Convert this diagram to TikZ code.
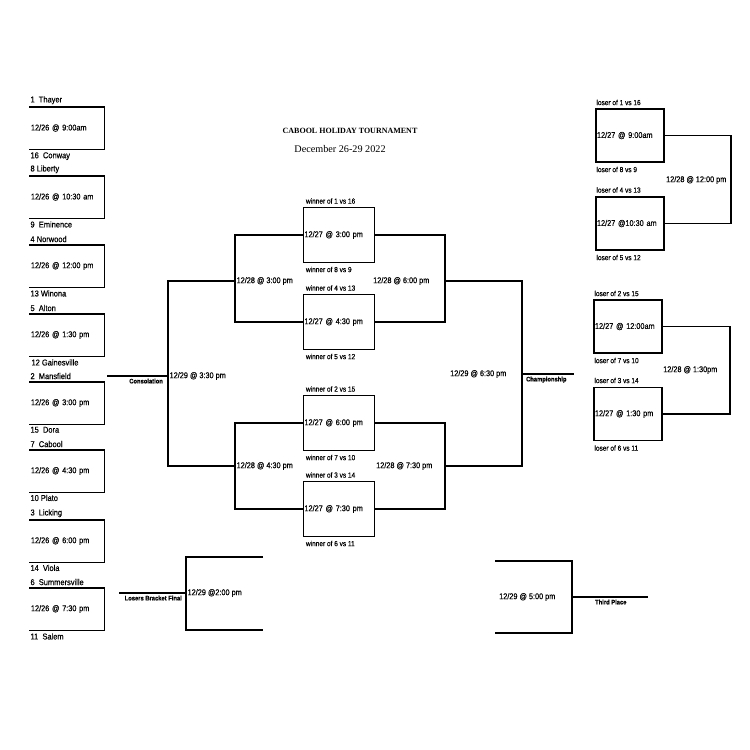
\documentclass[tikz,border=0pt]{standalone}
\usepackage{fontspec}
\setmainfont{Liberation Sans}[FakeStretch=0.88, FakeBold=0.4]
\newfontfamily\headfont{Liberation Serif}
\usetikzlibrary{positioning}

\tikzset{
  team/.style={font=\fontsize{8.5}{10}\selectfont, inner sep=0.5pt},
  hour/.style={font=\fontsize{8.3}{10}\selectfont, inner sep=1pt},
  note/.style={font=\fontsize{7.4}{9}\selectfont, inner sep=0.5pt},
  tag/.style={font=\bfseries\fontsize{6.6}{8}\selectfont, inner sep=0.5pt},
  slot/.style={hour, text width=72pt, align=left, minimum height=41pt},
  game/.style={hour, draw, text width=69pt, align=left, minimum height=55pt},
  consol/.style={hour, draw, text width=66pt, align=left, minimum height=53pt}
}

\begin{document}
\begin{tikzpicture}[x=1pt, y=-1pt, line width=1.3pt]
  \fill[white] (0,0) rectangle (750,750);

  \node[font=\headfont\bfseries\fontsize{8}{10}\selectfont] (title) at (350,131) {CABOOL HOLIDAY TOURNAMENT};
  \node[font=\headfont\fontsize{10.2}{12}\selectfont] (dates) at (340,149) {December 26-29 2022};

  % first round
  \node[slot] (g1) at (67,128) {12/26 @ 9:00am};
  \node[team, above right=1.5pt and 0pt of g1.north west] (g1a) {1\ \ Thayer};
  \node[team, below right=2pt and 0pt of g1.south west] (g1b) {16\ \ Conway};
  \draw (g1.north west) -- (g1.north east) -- (g1.south east) -- (g1.south west);

  \node[slot] (g2) at (67,197) {12/26 @ 10:30 am};
  \node[team, above right=1.5pt and 0pt of g2.north west] (g2a) {8 Liberty};
  \node[team, below right=2pt and 0pt of g2.south west] (g2b) {9\ \ Eminence};
  \draw (g2.north west) -- (g2.north east) -- (g2.south east) -- (g2.south west);

  \node[slot] (g3) at (67,266) {12/26 @ 12:00 pm};
  \node[team, above right=1.5pt and 0pt of g3.north west] (g3a) {4 Norwood};
  \node[team, below right=2pt and 0pt of g3.south west] (g3b) {13 Winona};
  \draw (g3.north west) -- (g3.north east) -- (g3.south east) -- (g3.south west);

  \node[slot] (g4) at (67,335) {12/26 @ 1:30 pm};
  \node[team, above right=1.5pt and 0pt of g4.north west] (g4a) {5\ \ Alton};
  \node[team, below right=2pt and 1pt of g4.south west] (g4b) {12 Gainesville};
  \draw (g4.north west) -- (g4.north east) -- (g4.south east) -- (g4.south west);

  \node[slot] (g5) at (67,403) {12/26 @ 3:00 pm};
  \node[team, above right=1.5pt and 0pt of g5.north west] (g5a) {2\ \ Mansfield};
  \node[team, below right=1.5pt and 0pt of g5.south west] (g5b) {15\ \ Dora};
  \draw (g5.north west) -- (g5.north east) -- (g5.south east) -- (g5.south west);

  \node[slot] (g6) at (67,471) {12/26 @ 4:30 pm};
  \node[team, above right=1.5pt and 0pt of g6.north west] (g6a) {7\ \ Cabool};
  \node[team, below right=1.5pt and 0pt of g6.south west] (g6b) {10 Plato};
  \draw (g6.north west) -- (g6.north east) -- (g6.south east) -- (g6.south west);

  \node[slot] (g7) at (67,541) {12/26 @ 6:00 pm};
  \node[team, above right=1.5pt and 0pt of g7.north west] (g7a) {3\ \ Licking};
  \node[team, below right=1.5pt and 0pt of g7.south west] (g7b) {14\ \ Viola};
  \draw (g7.north west) -- (g7.north east) -- (g7.south east) -- (g7.south west);

  \node[slot] (g8) at (67,609) {12/26 @ 7:30 pm};
  \node[team, above right=1.5pt and 0pt of g8.north west] (g8a) {6\ \ Summersville};
  \node[team, below right=2pt and 0pt of g8.south west] (g8b) {11\ \ Salem};
  \draw (g8.north west) -- (g8.north east) -- (g8.south east) -- (g8.south west);

  % winners bracket
  \node[game] (w1) at (339,235) {12/27 @ 3:00 pm};
  \node[note, above right=2pt and 2pt of w1.north west] (w1a) {winner of 1 vs 16};
  \node[note, below right=2.5pt and 2pt of w1.south west] (w1b) {winner of 8 vs 9};

  \node[game] (w2) at (339,322) {12/27 @ 4:30 pm};
  \node[note, above right=2pt and 2pt of w2.north west] (w2a) {winner of 4 vs 13};
  \node[note, below right=2.5pt and 2pt of w2.south west] (w2b) {winner of 5 vs 12};

  \node[game] (w3) at (339,423) {12/27 @ 6:00 pm};
  \node[note, above right=2pt and 2pt of w3.north west] (w3a) {winner of 2 vs 15};
  \node[note, below right=2.5pt and 2pt of w3.south west] (w3b) {winner of 7 vs 10};

  \node[game] (w4) at (339,509) {12/27 @ 7:30 pm};
  \node[note, above right=2pt and 2pt of w4.north west] (w4a) {winner of 3 vs 14};
  \node[note, below right=2.5pt and 2pt of w4.south west] (w4b) {winner of 6 vs 11};

  \coordinate (qfA) at (235,281);
  \coordinate (qfB) at (235,466);
  \coordinate (cons) at (168,376);
  \coordinate (consEnd) at (107,376);
  \coordinate (sfA) at (445,281);
  \coordinate (sfB) at (445,466);
  \coordinate (champ) at (522,374);
  \coordinate (champEnd) at (574,374);

  \draw (w1.west) -| (qfA) |- (w2.west);
  \draw (w3.west) -| (qfB) |- (w4.west);
  \draw (qfA) -| (cons) |- (qfB);
  \draw (cons) -- (consEnd);
  \draw (w1.east) -| (sfA) |- (w2.east);
  \draw (w3.east) -| (sfB) |- (w4.east);
  \draw (sfA) -| (champ) |- (sfB);
  \draw (champ) -- (champEnd);

  \node[hour, right=0pt of qfA] (qfAt) {12/28 @ 3:00 pm};
  \node[hour, right=0pt of qfB] (qfBt) {12/28 @ 4:30 pm};
  \node[hour, right=0pt of cons] (const) {12/29 @ 3:30 pm};
  \node[tag, below left=1.5pt and 4pt of cons] (consl) {Consolation};
  \node[hour, left=14pt of sfA] (sfAt) {12/28 @ 6:00 pm};
  \node[hour, left=11pt of sfB] (sfBt) {12/28 @ 7:30 pm};
  \node[hour, left=14pt of champ] (champt) {12/29 @ 6:30 pm};
  \node[tag, below right=1.5pt and 3pt of champ] (champl) {Championship};

  % consolation bracket
  \node[consol] (l1) at (630,135.5) {12/27 @ 9:00am};
  \node[note, above right=2pt and 0pt of l1.north west] (l1a) {loser of 1 vs 16};
  \node[note, below right=3pt and 0pt of l1.south west] (l1b) {loser of 8 vs 9};

  \node[consol] (l2) at (630,223.5) {12/27 @10:30 am};
  \node[note, above right=2.5pt and 0pt of l2.north west] (l2a) {loser of 4 vs 13};
  \node[note, below right=3pt and 0pt of l2.south west] (l2b) {loser of 5 vs 12};

  \node[consol] (l3) at (628,326.5) {12/27 @ 12:00am};
  \node[note, above right=2pt and 0pt of l3.north west] (l3a) {loser of 2 vs 15};
  \node[note, below right=3pt and 0pt of l3.south west] (l3b) {loser of 7 vs 10};

  \node[consol] (l4) at (628,414) {12/27 @ 1:30 pm};
  \node[note, above right=2.5pt and 0pt of l4.north west] (l4a) {loser of 3 vs 14};
  \node[note, below right=3pt and 0pt of l4.south west] (l4b) {loser of 6 vs 11};

  \coordinate (lbA) at (731,180);
  \coordinate (lbB) at (730,370);
  \draw (l1.east) -| (lbA) |- (l2.east);
  \draw (l3.east) -| (lbB) |- (l4.east);
  \node[hour, left=3pt of lbA] (lbAt) {12/28 @ 12:00 pm};
  \node[hour, left=11pt of lbB] (lbBt) {12/28 @ 1:30pm};

  % finals
  \coordinate (lbf) at (186,593);
  \coordinate (lbfStart) at (119,593);
  \coordinate (lbfTop) at (263,557);
  \coordinate (lbfBot) at (263,630);
  \draw (lbfTop) -| (lbf) |- (lbfBot);
  \draw (lbfStart) -- (lbf);
  \node[hour, right=0pt of lbf] (lbft) {12/29 @2:00 pm};
  \node[tag, below left=1.5pt and 3pt of lbf] (lbfl) {Losers Bracket Final};

  \coordinate (third) at (572,597);
  \coordinate (thirdTop) at (495,561);
  \coordinate (thirdBot) at (495,633);
  \coordinate (thirdEnd) at (648,597);
  \draw (thirdTop) -| (third) |- (thirdBot);
  \draw (third) -- (thirdEnd);
  \node[hour, left=15pt of third] (thirdt) {12/29 @ 5:00 pm};
  \node[tag, below right=1.5pt and 22pt of third] (thirdl) {Third Place};
\end{tikzpicture}
\end{document}
